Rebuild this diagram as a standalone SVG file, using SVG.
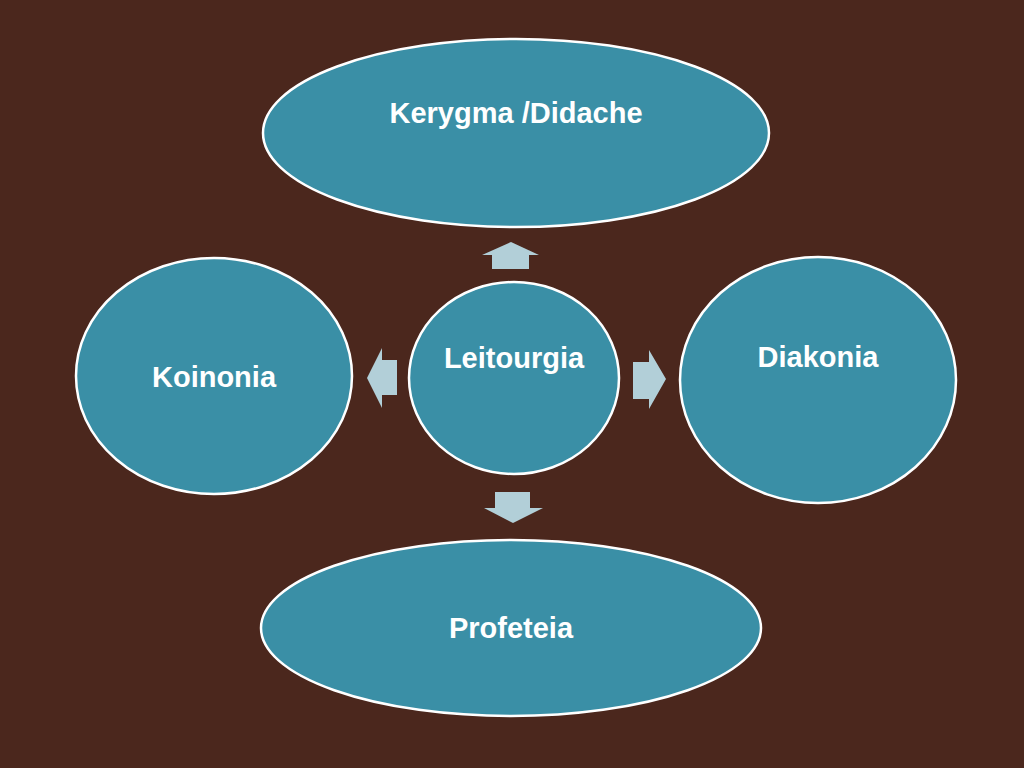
<svg xmlns="http://www.w3.org/2000/svg" width="1024" height="768" viewBox="0 0 1024 768">
<style>
.node{fill:#3A8FA6;stroke:#FFFFFF;stroke-width:2.5}
.lbl{font-family:"Liberation Sans",Arial,sans-serif;font-weight:bold;font-size:29px;fill:#FFFFFF;text-anchor:middle}
.arr{fill:#B2CFD8}
</style>
<rect width="1024" height="768" fill="#4B271D"/>
<g id="kerygma"><ellipse class="node" cx="516" cy="133" rx="253" ry="94"/><text class="lbl" x="516" y="123">Kerygma /Didache</text></g>
<g id="koinonia"><ellipse class="node" cx="214" cy="376" rx="138" ry="118"/><text class="lbl" x="214" y="387">Koinonia</text></g>
<g id="leitourgia"><ellipse class="node" cx="514" cy="378" rx="105" ry="96"/><text class="lbl" x="514" y="368">Leitourgia</text></g>
<g id="diakonia"><ellipse class="node" cx="818" cy="380" rx="138" ry="123"/><text class="lbl" x="818" y="367">Diakonia</text></g>
<g id="profeteia"><ellipse class="node" cx="511" cy="628" rx="250" ry="88"/><text class="lbl" x="511" y="638">Profeteia</text></g>
<g id="connectors">
<polygon class="arr" points="511,242 539,255 529,255 529,269 492,269 492,255 482,255"/>
<polygon class="arr" points="367,378 382,348 382,360 397,360 397,395 382,395 382,408"/>
<polygon class="arr" points="666,379 649,350 649,362 633,362 633,399 649,399 649,409"/>
<polygon class="arr" points="513,523 543,508 530,508 530,492 495,492 495,508 484,508"/>
</g>
</svg>
